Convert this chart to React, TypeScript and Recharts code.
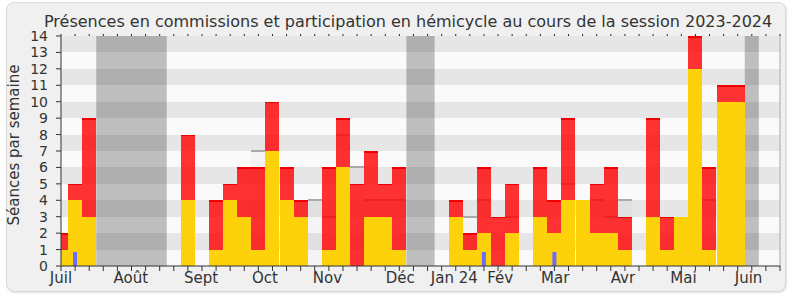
import React from 'react'
import {
  ComposedChart,
  Bar,
  XAxis,
  YAxis,
  CartesianGrid,
  ReferenceArea,
  ReferenceLine,
  Label,
} from 'recharts'

// semaines de la session, juillet 2023 -> juin 2024
const WEEKS = Array.from({ length: 52 }, (_, i) => i)

// présences en commission (jaune)
const COMMISSION = [
  1, 4, 3, 0, 0, 0, 0, 0, 0, 4, 0, 1, 4, 3, 1, 7, 4, 3, 0, 1, 6, 0, 3, 3, 1, 0,
  0, 0, 3, 1, 2, 0, 2, 0, 3, 2, 4, 4, 2, 2, 1, 0, 3, 1, 3, 12, 1, 10, 10, 0, 0, 0,
]
// participation en hémicycle (rouge, empilé au-dessus)
const HEMICYCLE = [
  1, 1, 6, 0, 0, 0, 0, 0, 0, 4, 0, 3, 1, 3, 5, 3, 2, 1, 0, 5, 3, 5, 4, 2, 5, 0,
  0, 0, 1, 1, 4, 3, 3, 0, 3, 2, 5, 0, 3, 4, 2, 0, 6, 2, 0, 2, 5, 1, 1, 0, 0, 0,
]
// questions (bleu)
const QUESTIONS: Record<number, number> = { 1: 0.85, 30: 0.85, 35: 0.85 }
// médiane des députés
const MEDIANE: Record<number, number> = {
  14: 7, 18: 4, 19: 3, 20: 8, 21: 6, 22: 4, 23: 4, 24: 4, 29: 3, 30: 4,
  32: 3, 36: 5, 38: 4, 39: 3, 40: 4, 46: 4,
}
// vacances parlementaires (semaines de début et de fin)
const VACANCES = [
  [3, 7],
  [25, 26],
  [49, 49],
]

const MONTHS = ['Juil', 'Août', 'Sept', 'Oct', 'Nov', 'Déc', 'Jan 24', 'Fév', 'Mar', 'Avr', 'Mai', 'Juin']
const MONTH_POS = [0, 4.95, 9.94, 14.46, 18.9, 24.06, 27.9, 31.15, 35.06, 39.86, 44.15, 48.77]
const Y_TICKS = [0, 1, 2, 3, 4, 5, 6, 7, 8, 9, 10, 11, 12, 13, 14]

const data = WEEKS.map((w) => ({
  w,
  commission: COMMISSION[w],
  hemicycle: HEMICYCLE[w],
  questions: QUESTIONS[w] ?? null,
  mediane: MEDIANE[w] ?? null,
}))

function RedShape(props: any) {
  const { x, y, width, height } = props
  if (!height || height <= 0) return null
  return (
    <g shapeRendering="crispEdges">
      <rect x={x} y={y} width={width} height={height} fill="#ff0000" fillOpacity={0.8} />
      <rect x={x} y={y} width={width} height={1.5} fill="#f00000" />
    </g>
  )
}

function YellowShape(props: any) {
  const { x, y, width, height } = props
  if (!height || height <= 0) return null
  return <rect x={x} y={y} width={width} height={height} fill="#fed20b" shapeRendering="crispEdges" />
}

function MedianShape(props: any) {
  const { x, y, width, height } = props
  if (height == null || isNaN(y)) return null
  return (
    <g shapeRendering="crispEdges">
      <rect x={x} y={y} width={width} height={height} fill="#000" fillOpacity={0.025} />
      <rect x={x} y={y - 1} width={width} height={2} fill="#aaaaaa" />
    </g>
  )
}

export default function App() {
  return (
    <div
      style={{
        position: 'absolute',
        left: 0,
        top: 0,
        width: 790,
        height: 300,
        fontFamily: 'DejaVu Sans',
        color: '#333',
      }}
    >
      <div
        style={{
          position: 'absolute',
          left: 6,
          top: 2,
          width: 780,
          height: 290,
          boxSizing: 'border-box',
          background: '#f0f0f0',
          border: '1px solid #dadada',
          borderRadius: 8,
          boxShadow: '1px 1px 2px rgba(0,0,0,0.12)',
        }}
      />
      <div
        style={{
          position: 'absolute',
          left: 44,
          top: 13.5,
          fontSize: 16,
          lineHeight: '16px',
          whiteSpace: 'nowrap',
          color: '#333',
        }}
      >
        Présences en commissions et participation en hémicycle au cours de la session 2023-2024
      </div>
      <div style={{ position: 'absolute', left: 0, top: 0 }}>
        <ComposedChart
          width={790}
          height={300}
          data={data}
          margin={{ top: 35, right: 10, bottom: 0, left: 1 }}
          barCategoryGap={0}
          barGap={0}
        >
          <CartesianGrid
            horizontal
            vertical={false}
            stroke="none"
            horizontalFill={['#e6e6e6', '#fafafa']}
            fillOpacity={1}
          />
          <XAxis
            dataKey="w"
            type="number"
            domain={[0, 51]}
            ticks={WEEKS}
            interval={0}
            tickFormatter={() => ''}
            tickSize={5}
            height={1}
            axisLine={{ stroke: '#333' }}
            tickLine={{ stroke: '#333' }}
            allowDataOverflow
          />
          <XAxis
            xAxisId="mois"
            dataKey="w"
            type="number"
            domain={[0, 51]}
            ticks={MONTH_POS}
            interval={0}
            tickFormatter={(v: number) => MONTHS[MONTH_POS.indexOf(v)]}
            axisLine={false}
            tickLine={false}
            tickSize={0}
            tickMargin={5}
            height={33}
            tick={{ fontSize: 15, fill: '#333' }}
            allowDataOverflow
          />
          <XAxis
            xAxisId="haut"
            orientation="top"
            dataKey="w"
            type="number"
            domain={[0, 51]}
            ticks={WEEKS}
            interval={0}
            tickFormatter={() => ''}
            tickSize={2}
            height={1}
            axisLine={false}
            tickLine={{ stroke: '#222' }}
            allowDataOverflow
          />
          <XAxis xAxisId="med" dataKey="w" type="number" domain={[0, 51]} hide height={0} allowDataOverflow />
          <XAxis xAxisId="q" dataKey="w" type="number" domain={[0, 51]} hide height={0} allowDataOverflow />
          <YAxis
            type="number"
            domain={[0, 14]}
            ticks={Y_TICKS}
            interval={0}
            width={60}
            tickSize={5}
            tickMargin={8}
            axisLine={{ stroke: '#333' }}
            tickLine={{ stroke: '#333' }}
            tick={{ fontSize: 14, fill: '#333' }}
            allowDataOverflow
          >
            <Label
              content={() => (
                <text
                  x={14}
                  y={145}
                  transform="rotate(-90 14 145)"
                  textAnchor="middle"
                  dominantBaseline="central"
                  fontSize={15}
                  fill="#333"
                >
                  Séances par semaine
                </text>
              )}
            />
          </YAxis>
          {VACANCES.map(([a, b]) => (
            <ReferenceArea
              key={a}
              x1={a - 0.5}
              x2={b + 0.5}
              y1={0}
              y2={14}
              fill="#000"
              fillOpacity={0.24}
              stroke="none"
              ifOverflow="extendDomain"
            />
          ))}
          <Bar
            xAxisId="med"
            dataKey="mediane"
            shape={<MedianShape />}
            isAnimationActive={false}
          />
          <Bar
            dataKey="commission"
            stackId="s"
            shape={<YellowShape />}
            isAnimationActive={false}
          />
          <Bar
            dataKey="hemicycle"
            stackId="s"
            shape={<RedShape />}
            isAnimationActive={false}
          />
          <Bar
            xAxisId="q"
            dataKey="questions"
            barSize={4}
            fill="#6b6bff"
            isAnimationActive={false}
          />
          <ReferenceLine x={51} stroke="#aaa" />
        </ComposedChart>
      </div>
    </div>
  )
}
